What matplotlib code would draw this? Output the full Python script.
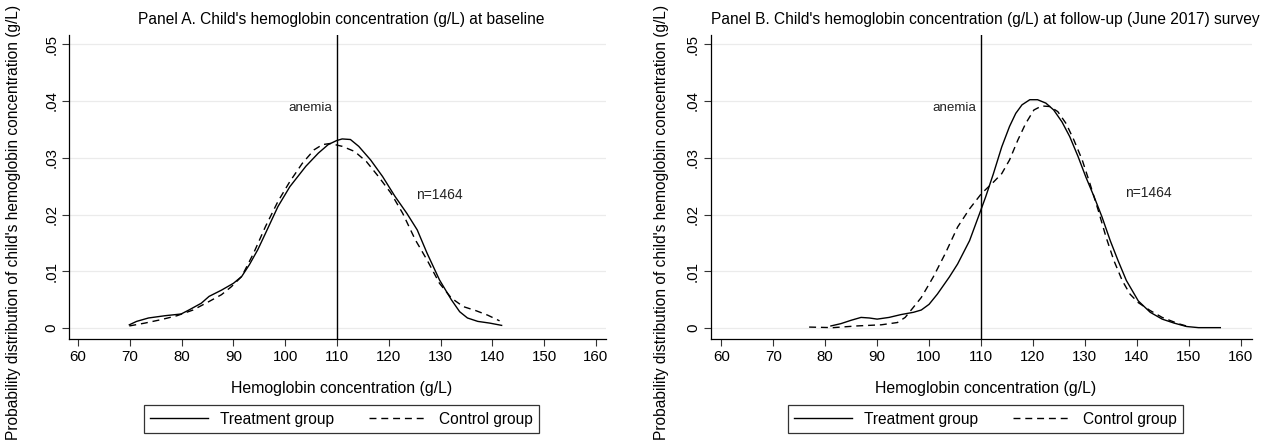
"""
Kernel density of child's hemoglobin, baseline vs follow-up, Stata-like style.
"""
import matplotlib
matplotlib.use("Agg")
import matplotlib.pyplot as plt
from matplotlib.lines import Line2D

plt.rcParams.update({
    "font.family": ["Liberation Sans", "DejaVu Sans"],
    "font.size": 11,
})

# Panel A: baseline
a_treat_x = [69.9, 71.3, 73.6, 76.8, 79.9, 81.4, 83.8, 85.3, 87.7, 90.0, 91.6, 93.1, 94.7,
             96.2, 98.6, 100.9, 104.0, 106.4, 108.3, 109.9, 111.0, 112.6, 114.2, 116.5,
             118.8, 121.2, 123.5, 125.5, 127.4, 129.8, 132.1, 133.7, 135.2, 137.2, 139.5, 141.8]
a_treat_y = [0.0006, 0.0012, 0.0018, 0.0022, 0.0025, 0.0032, 0.0044, 0.0056, 0.0067, 0.0079,
             0.0091, 0.0112, 0.0138, 0.0167, 0.0214, 0.0249, 0.0285, 0.0308, 0.0323, 0.0330,
             0.0333, 0.0332, 0.0320, 0.0296, 0.0267, 0.0232, 0.0202, 0.0173, 0.0132, 0.0085,
             0.0050, 0.0029, 0.0018, 0.0012, 0.0009, 0.0005]
a_ctrl_x = [69.9, 72.9, 76.0, 79.1, 82.2, 85.3, 87.7, 89.6, 91.6, 93.9, 96.2, 98.6, 100.9,
            103.3, 105.6, 107.2, 108.7, 111.0, 113.4, 115.7, 118.0, 120.4, 122.7, 125.1,
            127.4, 129.8, 132.1, 134.4, 136.8, 139.1, 141.4]
a_ctrl_y = [0.0004, 0.0009, 0.0015, 0.0022, 0.0032, 0.0047, 0.0059, 0.0073, 0.0091, 0.0132,
            0.0179, 0.0223, 0.0258, 0.0290, 0.0314, 0.0323, 0.0325, 0.0320, 0.0311, 0.0293,
            0.0267, 0.0238, 0.0202, 0.0156, 0.0120, 0.0079, 0.0053, 0.0038, 0.0031, 0.0023,
            0.0013]

# Panel B: follow-up (June 2017)
b_treat_x = [81.1, 83.0, 85.0, 86.9, 88.5, 90.0, 92.3, 94.6, 97.0, 98.5, 100.0, 101.6, 103.9,
             105.5, 107.8, 109.7, 110.9, 112.4, 114.0, 115.5, 116.7, 117.9, 119.4, 120.9,
             122.5, 124.0, 125.6, 127.1, 128.7, 130.2, 131.8, 133.3, 134.9, 136.4, 138.0,
             140.3, 142.6, 144.9, 147.2, 149.6, 151.9, 156.1]
b_treat_y = [0.0004, 0.0008, 0.0014, 0.0019, 0.0018, 0.0016, 0.0019, 0.0024, 0.0028, 0.0032,
             0.0042, 0.0060, 0.0090, 0.0113, 0.0154, 0.0201, 0.0231, 0.0272, 0.0319, 0.0355,
             0.0378, 0.0393, 0.0402, 0.0402, 0.0396, 0.0384, 0.0363, 0.0337, 0.0302, 0.0266,
             0.0231, 0.0196, 0.0154, 0.0119, 0.0084, 0.0048, 0.0028, 0.0016, 0.0009, 0.0003,
             0.0001, 0.0001]
b_ctrl_x = [76.9, 81.5, 86.1, 90.8, 93.9, 95.4, 97.0, 98.5, 100.8, 103.1, 105.5, 107.8, 110.1,
            112.4, 114.0, 115.5, 117.1, 118.6, 120.2, 121.7, 123.3, 124.8, 126.4, 127.9,
            129.5, 131.0, 132.6, 134.1, 135.6, 137.2, 138.7, 140.3, 142.6, 144.9, 148.0, 150.3]
b_ctrl_y = [0.0002, 0.0001, 0.0004, 0.0006, 0.0010, 0.0019, 0.0037, 0.0054, 0.0090, 0.0131,
            0.0178, 0.0210, 0.0237, 0.0257, 0.0272, 0.0296, 0.0331, 0.0360, 0.0384, 0.0391,
            0.0390, 0.0381, 0.0360, 0.0331, 0.0296, 0.0254, 0.0207, 0.0160, 0.0119, 0.0084,
            0.0060, 0.0045, 0.0031, 0.0019, 0.0008, 0.0002]

x_ticks = [60, 70, 80, 90, 100, 110, 120, 130, 140, 150, 160]
y_ticks = [0, 0.01, 0.02, 0.03, 0.04, 0.05]
y_tick_labels = ["0", ".01", ".02", ".03", ".04", ".05"]
anemia_cut = 110

panels = [
    dict(title="Panel A. Child's hemoglobin concentration (g/L) at baseline",
         tx=a_treat_x, ty=a_treat_y, cx=a_ctrl_x, cy=a_ctrl_y,
         rect=[0.0548, 0.233, 0.4248, 0.688], xlim=(58.3, 162.0),
         n_xy=(125.3, 0.0234), ylab_x=0.0103),
    dict(title="Panel B. Child's hemoglobin concentration (g/L) at follow-up (June 2017) survey",
         tx=b_treat_x, ty=b_treat_y, cx=b_ctrl_x, cy=b_ctrl_y,
         rect=[0.5625, 0.233, 0.428, 0.688], xlim=(58.0, 162.2),
         n_xy=(137.8, 0.0238), ylab_x=0.5235),
]

DASH = (0, (5, 3.5))


def main():
    fig = plt.figure(figsize=(12.64, 4.42), dpi=100)

    for p in panels:
        ax = fig.add_axes(p["rect"])
        ax.set_xlim(*p["xlim"])
        ax.set_ylim(-0.0019, 0.0516)
        for y in y_ticks:
            ax.axhline(y, color="#ebebeb", lw=0.9, zorder=0)
        ax.plot(p["tx"], p["ty"], color="black", lw=1.0, label="Treatment group")
        ax.plot(p["cx"], p["cy"], color="black", lw=1.0, ls=DASH, label="Control group")
        ax.axvline(anemia_cut, color="black", lw=1.0)
        ax.text(anemia_cut - 0.9, 0.0388, "anemia", ha="right", va="center", fontsize=9.6,
                color="#222222")
        ax.text(p["n_xy"][0], p["n_xy"][1], "n=1464", ha="left", va="center", fontsize=10,
                color="#222222")

        ax.set_xticks(x_ticks)
        ax.set_yticks(y_ticks)
        ax.set_yticklabels(y_tick_labels, rotation=90, va="center")
        ax.tick_params(direction="out", length=5, width=0.8, color="#333333",
                       labelsize=10.8, pad=3)
        for side in ("top", "right"):
            ax.spines[side].set_visible(False)
        for side in ("left", "bottom"):
            ax.spines[side].set_linewidth(0.9)

        cx = p["rect"][0] + p["rect"][2] / 2 + 0.003
        fig.text(cx, 0.956, p["title"], ha="center", va="center", fontsize=11.2)
        fig.text(cx, 0.122, "Hemoglobin concentration (g/L)", ha="center", va="center",
                 fontsize=11.4)
        fig.text(p["ylab_x"], 0.497,
                 "Probability distribution of child's hemoglobin concentration (g/L)",
                 rotation=90, ha="center", va="center", fontsize=11.2)

        handles = [Line2D([], [], color="black", lw=1.0),
                   Line2D([], [], color="black", lw=1.0, ls=DASH)]
        leg = fig.legend(handles, ["Treatment group", "Control group"], ncol=2,
                         loc="center", bbox_to_anchor=(cx, 0.052), fontsize=11.2,
                         frameon=True, fancybox=False, handlelength=3.7,
                         columnspacing=2.2, borderpad=0.4, handletextpad=0.8)
        leg.get_frame().set_edgecolor("black")
        leg.get_frame().set_linewidth(0.9)

    fig.savefig("out.png", dpi=100, facecolor="white")
    plt.close(fig)


if __name__ == "__main__":
    main()
